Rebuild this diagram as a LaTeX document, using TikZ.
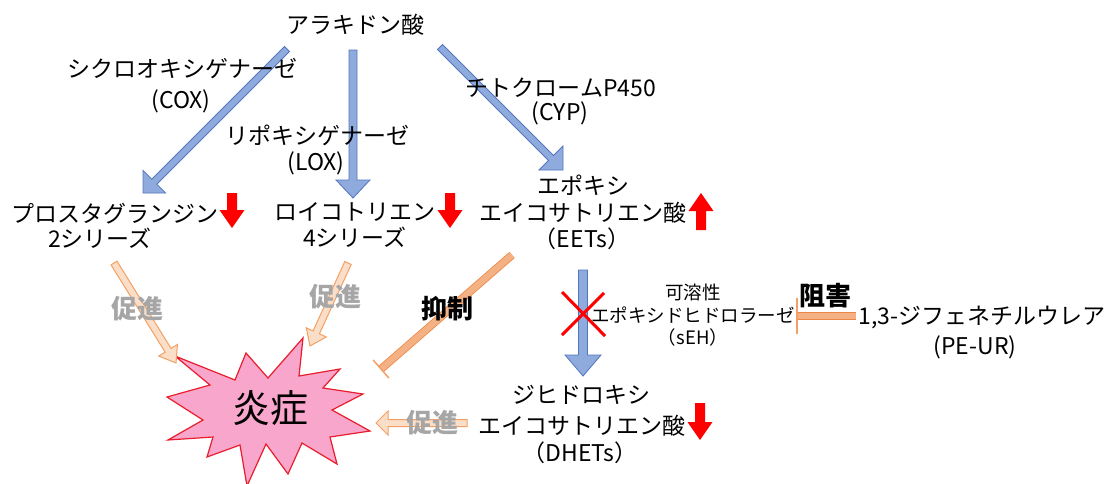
\documentclass[tikz,border=0pt]{standalone}
\usepackage{fontspec}
\setmainfont{Noto Sans CJK JP}
\usetikzlibrary{calc}
\definecolor{bfill}{RGB}{143,170,220}
\definecolor{bline}{RGB}{82,118,190}
\definecolor{ofill}{RGB}{251,222,200}
\definecolor{oline}{RGB}{242,160,100}
\definecolor{ifill}{RGB}{244,177,131}
\definecolor{iline}{RGB}{237,135,70}
\definecolor{pinkfill}{RGB}{249,166,204}
\definecolor{starline}{RGB}{232,30,45}
\definecolor{greytxt}{RGB}{166,166,166}
\definecolor{arrred}{RGB}{255,0,0}
\newcommand{\fatarrow}[6]{%
  \coordinate (fahead) at ($(#3)!#6!(#2)$);
  \path[#1] ($(#2)!#4!90:(#3)$) -- ($(fahead)!#4!90:(#3)$) -- ($(fahead)!#5!90:(#3)$) -- (#3)
     -- ($(fahead)!#5!-90:(#3)$) -- ($(fahead)!#4!-90:(#3)$) -- ($(#2)!#4!-90:(#3)$) -- cycle;}
\tikzset{
  lbl/.style={font=\fontsize{23}{27}\selectfont, inner sep=0pt},
  sml/.style={font=\fontsize{18.5}{22}\selectfont, inner sep=0pt},
  prom/.style={font=\fontsize{26}{30}\selectfont\bfseries, text=greytxt, inner sep=0pt},
  blk/.style={font=\fontsize{26}{30}\selectfont\bfseries, inner sep=0pt},
  bigtxt/.style={font=\fontsize{38}{44}\selectfont, inner sep=0pt},
  bluearrow/.style={fill=bfill, draw=bline, line width=0.8pt, line join=miter},
  promarrow/.style={fill=ofill, draw=oline, line width=1pt},
  redarrow/.style={fill=arrred},
  inhib/.style={draw=iline, line width=0.8pt, double=ifill, double distance=6.4pt},
  tbar/.style={draw=oline, line width=1.5pt},
  burst/.style={fill=pinkfill, draw=starline, line width=1.2pt, line join=miter},
  cross/.style={draw=arrred, line width=3pt}
}
\begin{document}
\begin{tikzpicture}[x=1pt,y=-1pt]
\useasboundingbox (0,0) rectangle (1113,483);
\fill[white] (0,0) rectangle (1113,483);

% burst
\draw[burst] (175,356) -- (235,380) -- (246,353) -- (268,378) -- (303,338) -- (299,376)
  -- (340,369) -- (323,388) -- (363,394) -- (332,410) -- (370,431) -- (330,437)
  -- (337,464) -- (302,443) -- (288,474) -- (266,444) -- (247,486) -- (240,445)
  -- (207,457) -- (213,437) -- (168,440) -- (203,420) -- (167,397) -- (210,385) -- cycle;
\node[bigtxt] (inf) at (270,408) {炎症};

% blue conversion arrows
\coordinate (coxS) at (287,49);  \coordinate (coxE) at (143,193);
\coordinate (loxS) at (353,50);  \coordinate (loxE) at (353,198);
\coordinate (cypS) at (440,47);  \coordinate (cypE) at (563,170);
\coordinate (sehS) at (583,270); \coordinate (sehE) at (583,376);
\fatarrow{bluearrow}{coxS}{coxE}{3.5pt}{16pt}{16pt}
\fatarrow{bluearrow}{loxS}{loxE}{4pt}{17pt}{18pt}
\fatarrow{bluearrow}{cypS}{cypE}{3.5pt}{17pt}{17pt}
\fatarrow{bluearrow}{sehS}{sehE}{4.5pt}{18pt}{21pt}

% text nodes
\node[lbl] (ara) at (355,25) {アラキドン酸};
\node[lbl] (cox1) at (182,69) {シクロオキシゲナーゼ};
\node[lbl] (cox2) at (181,101) {(COX)};
\node[lbl] (lox1) at (317,135) {リポキシゲナーゼ};
\node[lbl] (lox2) at (316,163) {(LOX)};
\node[lbl] (cyp1) at (561,88) {チトクロームP450};
\node[lbl] (cyp2) at (560,113) {(CYP)};
\node[lbl] (pg1) at (115,214) {プロスタグランジン};
\node[lbl] (pg2) at (100,238) {2シリーズ};
\node[lbl] (lt1) at (355,212) {ロイコトリエン};
\node[lbl] (lt2) at (355,237) {4シリーズ};
\node[lbl] (eet1) at (583,185) {エポキシ};
\node[lbl] (eet2) at (583,213) {エイコサトリエン酸};
\node[lbl] (eet3) at (582,239) {（EETs）};
\node[lbl] (dh1) at (581,395) {ジヒドロキシ};
\node[lbl] (dh2) at (582,426) {エイコサトリエン酸};
\node[lbl] (dh3) at (580,453) {（DHETs）};
\node[sml] (seh1) at (693,292) {可溶性};
\node[sml] (seh2) at (693,315) {エポキシドヒドロラーゼ};
\node[sml] (seh3) at (693,337) {（sEH）};
\node[lbl] (pe1) at (982,317) {1,3-ジフェネチルウレア};
\node[lbl] (pe2) at (975,347) {(PE-UR)};

% red X
\draw[cross] (562,292) -- (605,336);
\draw[cross] (604,293) -- (562,335);

% red level arrows
\coordinate (rpgS) at (232,193); \coordinate (rpgE) at (232,228);
\coordinate (rltS) at (450,193); \coordinate (rltE) at (450,228);
\coordinate (reeS) at (701,230); \coordinate (reeE) at (701,193);
\coordinate (rdhS) at (700,403); \coordinate (rdhE) at (700,440);
\fatarrow{redarrow}{rpgS}{rpgE}{5pt}{12.5pt}{18pt}
\fatarrow{redarrow}{rltS}{rltE}{5pt}{12.5pt}{18pt}
\fatarrow{redarrow}{reeS}{reeE}{5pt}{12.5pt}{18pt}
\fatarrow{redarrow}{rdhS}{rdhE}{5pt}{12.5pt}{18pt}

% promotion arrows
\coordinate (p1S) at (114,263); \coordinate (p1E) at (176,363);
\coordinate (p2S) at (348,263); \coordinate (p2E) at (310,346);
\coordinate (p3S) at (467,423); \coordinate (p3E) at (376,423);
\fatarrow{promarrow}{p1S}{p1E}{3.5pt}{11pt}{15pt}
\fatarrow{promarrow}{p2S}{p2E}{3.5pt}{11pt}{15pt}
\fatarrow{promarrow}{p3S}{p3E}{3.5pt}{12pt}{12pt}

% inhibition lines
\coordinate (i1S) at (512,255); \coordinate (i1E) at (381,369);
\draw[inhib] (i1S) -- (i1E);
\draw[tbar] ($(i1E)!12pt!90:(i1S)$) -- ($(i1E)!12pt!-90:(i1S)$);
\coordinate (i2S) at (856,316); \coordinate (i2E) at (797,316);
\draw[inhib] (i2S) -- (i2E);
\draw[tbar] ($(i2E)!18pt!90:(i2S)$) -- ($(i2E)!18pt!-90:(i2S)$);

% labels
\node[prom] (pr1) at (137,309) {促進};
\node[prom] (pr2) at (335,297) {促進};
\node[prom] (pr3) at (432,423) {促進};
\node[blk] (yok) at (447,309) {抑制};
\node[blk] (sog) at (825,296) {阻害};
\end{tikzpicture}
\end{document}
